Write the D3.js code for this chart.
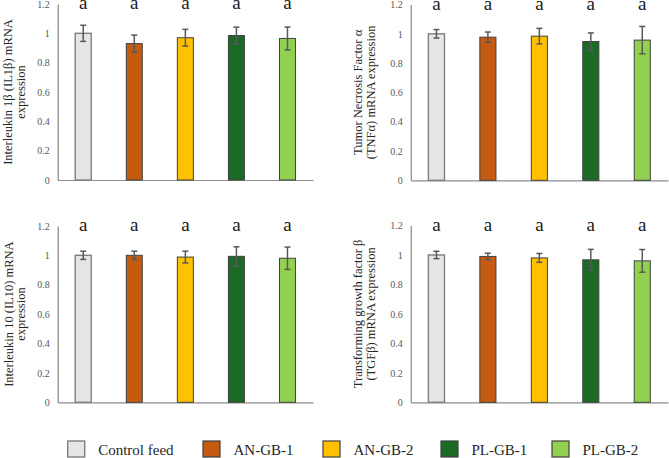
<!DOCTYPE html>
<html>
<head>
<meta charset="utf-8">
<script src="https://cdn.jsdelivr.net/npm/d3@7"></script>
<style>
  html, body { margin: 0; padding: 0; background: #fff; }
  svg { display: block; }
  text { font-family: "Liberation Serif", "Times New Roman", serif; }
</style>
</head>
<body>
<svg id="chart" width="669" height="458"></svg>
<script>
// ---- data ----
const categories = ["Control feed", "AN-GB-1", "AN-GB-2", "PL-GB-1", "PL-GB-2"];
const colors = ["#e7e6e6", "#c55a11", "#ffc000", "#1b6b27", "#92d050"];
const strokes = ["#7f7f7f", "#404040", "#404040", "#404040", "#404040"];
const yTicks = [0, 0.2, 0.4, 0.6, 0.8, 1, 1.2];
const sigLetters = ["a", "a", "a", "a", "a"];

const il1bValues  = [1.0, 0.93, 0.97, 0.985, 0.965];
const il1bErrors  = [0.055, 0.058, 0.057, 0.057, 0.078];
const tnfaValues  = [1.0, 0.977, 0.984, 0.947, 0.957];
const tnfaErrors  = [0.029, 0.035, 0.053, 0.059, 0.093];
const il10Values  = [1.0, 1.0, 0.988, 0.993, 0.98];
const il10Errors  = [0.028, 0.028, 0.04, 0.065, 0.076];
const tgfbValues  = [1.0, 0.99, 0.98, 0.967, 0.96];
const tgfbErrors  = [0.025, 0.022, 0.03, 0.071, 0.077];

const titleIL1b = ["Interleukin 1β (IL1β) mRNA", "expression"];
const titleTNFa = ["Tumor Necrosis Factor α", "(TNFα) mRNA expression"];
const titleIL10 = ["Interleukin 10 (IL10) mRNA", "expression"];
const titleTGFb = ["Transforming growth factor β", "(TGFβ) mRNA expression"];

// ---- layout ----
const svg = d3.select("#chart");
const panels = [
  { values: il1bValues, errors: il1bErrors, title: titleIL1b, x0: 57.7, x1: 313, yTop: 4, yBot: 180, tx: 12 },
  { values: tnfaValues, errors: tnfaErrors, title: titleTNFa, x0: 410.7, x1: 668, yTop: 4.5, yBot: 180.3, tx: 362 },
  { values: il10Values, errors: il10Errors, title: titleIL10, x0: 57.7, x1: 313, yTop: 225.9, yBot: 402.3, tx: 12.5 },
  { values: tgfbValues, errors: tgfbErrors, title: titleTGFb, x0: 410.7, x1: 668, yTop: 225.5, yBot: 402.3, tx: 362 }
];

panels.forEach(p => {
  const g = svg.append("g");
  const x = d3.scaleBand().domain(categories).range([p.x0, p.x1])
    .paddingInner(0.687).paddingOuter(0.3435);
  const y = d3.scaleLinear().domain([0, 1.2]).range([p.yBot, p.yTop]);

  // y axis (labels only + line)
  const yAxis = d3.axisLeft(y).tickValues(yTicks).tickSize(0).tickPadding(8).tickFormat(d3.format("~g"));
  const ya = g.append("g").attr("transform", `translate(${p.x0},0)`).call(yAxis);
  ya.select(".domain").attr("stroke", "#6f6f6f").attr("stroke-width", 1);
  ya.selectAll("text").attr("fill", "#595959").style("font-size", "10px")
    .style("font-family", "'Liberation Serif', serif");

  // x axis line
  const xa = g.append("g").attr("transform", `translate(0,${p.yBot})`)
    .call(d3.axisBottom(x).tickSize(0).tickFormat(""));
  xa.select(".domain").attr("stroke", "#8c8c8c").attr("stroke-width", 1.2);

  // bars
  g.selectAll("rect.bar").data(p.values).join("rect")
    .attr("class", "bar")
    .attr("x", (d, i) => x(categories[i]))
    .attr("y", d => y(d))
    .attr("width", x.bandwidth())
    .attr("height", d => y(0) - y(d))
    .attr("fill", (d, i) => colors[i])
    .attr("stroke", (d, i) => strokes[i])
    .attr("stroke-width", (d, i) => i === 0 ? 1.4 : 1);

  // error bars
  const eb = g.selectAll("g.err").data(p.values).join("g").attr("class", "err");
  eb.append("line")
    .attr("x1", (d, i) => x(categories[i]) + x.bandwidth() / 2)
    .attr("x2", (d, i) => x(categories[i]) + x.bandwidth() / 2)
    .attr("y1", (d, i) => y(d + p.errors[i]))
    .attr("y2", (d, i) => y(d - p.errors[i]))
    .attr("stroke", "#595959").attr("stroke-width", 1.5);
  [1, -1].forEach(s => {
    eb.append("line")
      .attr("x1", (d, i) => x(categories[i]) + x.bandwidth() / 2 - 3)
      .attr("x2", (d, i) => x(categories[i]) + x.bandwidth() / 2 + 3)
      .attr("y1", (d, i) => y(d + s * p.errors[i]))
      .attr("y2", (d, i) => y(d + s * p.errors[i]))
      .attr("stroke", "#595959").attr("stroke-width", 1.5);
  });

  // significance letters
  g.selectAll("text.sig").data(sigLetters).join("text")
    .attr("class", "sig")
    .attr("x", (d, i) => x(categories[i]) + x.bandwidth() / 2)
    .attr("y", y(1.2) + 5)
    .attr("text-anchor", "middle")
    .style("font-size", "19px")
    .attr("fill", "#1a1a1a")
    .text(d => d);

  // y title
  const cy = (p.yTop + p.yBot) / 2;
  const t = g.append("text")
    .attr("transform", `translate(${p.tx},${cy}) rotate(-90)`)
    .attr("text-anchor", "middle")
    .style("font-size", "12.5px")
    .attr("fill", "#262626");
  p.title.forEach((line, k) => {
    t.append("tspan").attr("x", 0).attr("y", k * 12.5).text(line);
  });
});

// ---- legend ----
const legendX = [67.7, 203, 323, 441, 552];
const leg = svg.append("g");
categories.forEach((c, i) => {
  leg.append("rect")
    .attr("x", legendX[i]).attr("y", 441)
    .attr("width", 17).attr("height", 16)
    .attr("fill", colors[i])
    .attr("stroke", strokes[i])
    .attr("stroke-width", i === 0 ? 1.4 : 1.2);
  leg.append("text")
    .attr("x", legendX[i] + 30.5).attr("y", 455)
    .style("font-size", "15px")
    .attr("fill", "#262626")
    .text(c);
});
</script>
</body>
</html>
